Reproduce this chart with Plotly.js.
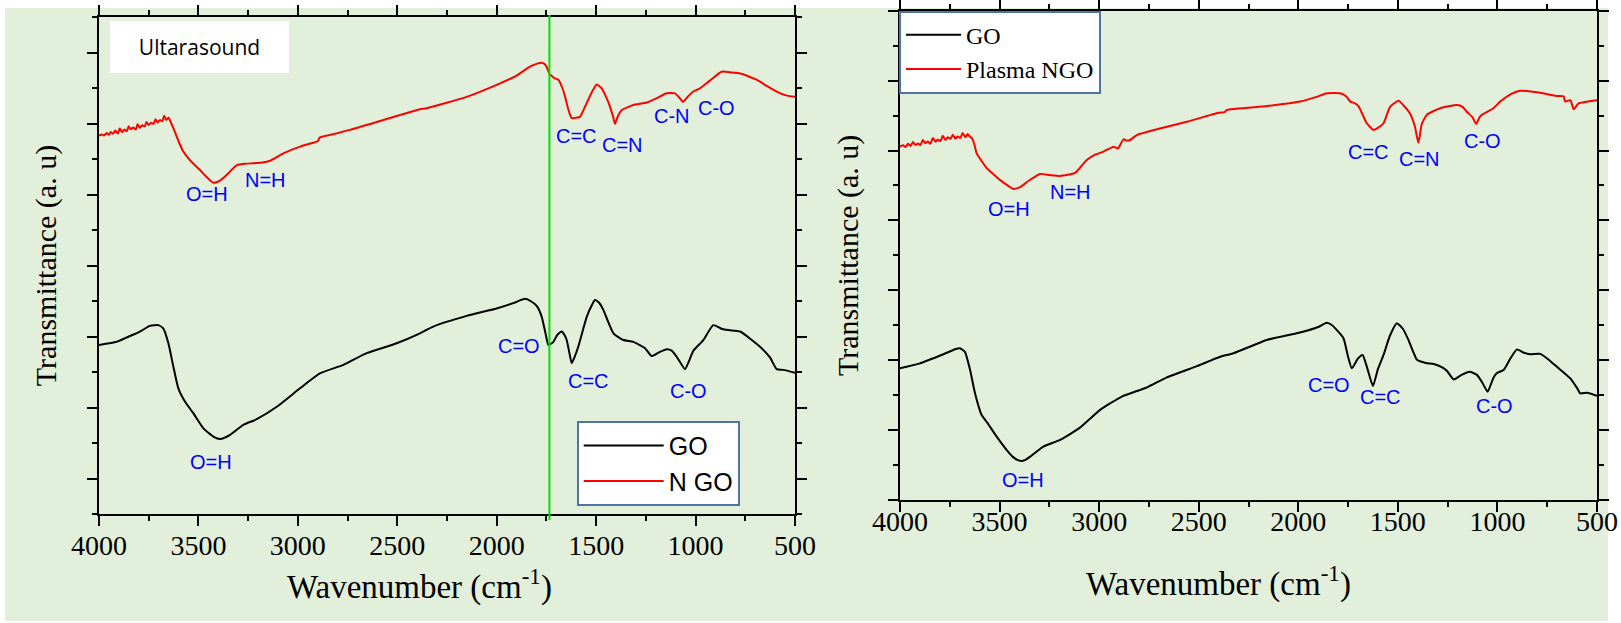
<!DOCTYPE html>
<html><head><meta charset="utf-8">
<script src="https://cdn.plot.ly/plotly-3.0.1.min.js"></script>
<style>html,body{margin:0;padding:0;background:#fff;}#chart{width:1621px;height:623px;}</style>
</head><body><div id="chart"></div>
<script>
// ---------------- data ----------------
const seriesNames = ["GO", "N GO"];
const seriesNamesPlasma = ["GO", "Plasma NGO"];
const panelTitle = "Ultarasound";
const xTitle = "Wavenumber (cm<sup>-1</sup>)";
const yTitle = "Transmittance (a. u)";
const markerWavenumber = 1735;

// Left panel (ultrasound) - GO
const wnUltraGO = [4000,3911,3850,3794,3744,3702,3677,3651,3626,3601,3567,3526,3475,3425,3391,3341,3274,3207,3106,2989,2889,2771,2654,2503,2386,2319,2151,2001,1917,1858,1830,1799,1774,1755,1740,1715,1695,1673,1660,1648,1635,1623,1610,1590,1547,1520,1506,1485,1464,1413,1363,1313,1254,1221,1185,1145,1120,1095,1053,1030,1011,961,911,870,835,776,676,626,592,559,500];
const tUltraGO = [4.76,4.85,5.00,5.14,5.30,5.32,5.23,4.81,4.15,3.54,3.16,2.84,2.41,2.18,2.11,2.23,2.51,2.67,3.02,3.54,3.96,4.20,4.53,4.81,5.09,5.28,5.58,5.79,5.94,6.06,6.00,5.86,5.56,5.10,4.76,4.85,5.05,5.14,5.05,4.90,4.55,4.25,4.40,4.71,5.56,5.90,6.03,5.95,5.75,5.09,4.90,4.85,4.67,4.45,4.55,4.64,4.60,4.43,4.08,4.35,4.60,4.90,5.32,5.22,5.18,5.14,4.71,4.41,4.08,4.06,3.98];

// Left panel (ultrasound) - N GO
const wnUltraNGO = [4000,3985,3975,3962,3950,3941,3930,3918,3905,3896,3884,3872,3860,3851,3840,3828,3815,3806,3795,3783,3770,3761,3750,3738,3725,3716,3705,3693,3682,3672,3662,3650,3640,3626,3600,3576,3540,3492,3460,3425,3390,3358,3307,3260,3224,3180,3140,3073,2989,2922,2900,2889,2838,2738,2570,2486,2386,2352,2151,1983,1900,1833,1800,1774,1760,1749,1735,1723,1710,1690,1670,1656,1640,1623,1600,1581,1556,1520,1497,1472,1450,1430,1415,1405,1390,1371,1313,1246,1200,1145,1103,1080,1062,1040,1011,978,930,869,820,776,700,676,640,592,550,500];
const tUltraNGO = [10.66,10.69,10.66,10.73,10.68,10.76,10.71,10.80,10.72,10.86,10.76,10.83,10.78,10.92,10.84,10.89,10.83,10.98,10.88,10.95,10.92,11.04,10.96,11.02,10.99,11.12,11.03,11.10,11.06,11.22,11.10,11.16,11.05,10.87,10.50,10.21,9.95,9.69,9.50,9.33,9.40,9.55,9.83,9.87,9.88,9.90,9.95,10.16,10.35,10.46,10.50,10.61,10.68,10.82,11.10,11.24,11.40,11.43,11.75,12.13,12.35,12.60,12.68,12.71,12.68,12.60,12.40,12.34,12.28,12.23,12.00,11.75,11.40,11.15,11.16,11.19,11.47,11.90,12.10,11.99,11.75,11.47,11.20,10.99,11.22,11.38,11.52,11.59,11.70,11.85,11.85,11.72,11.61,11.75,11.90,11.99,12.20,12.46,12.44,12.41,12.25,12.18,12.05,11.90,11.80,11.75];

// Right panel (plasma) - GO
const wnPlasmaGO = [4000,3900,3782,3720,3699,3674,3648,3623,3590,3560,3531,3500,3464,3430,3397,3370,3347,3280,3196,3096,2995,2886,2761,2660,2509,2392,2325,2158,1991,1900,1857,1830,1806,1773,1750,1731,1700,1677,1655,1625,1600,1572,1540,1505,1475,1447,1420,1404,1360,1320,1280,1254,1220,1180,1140,1103,1075,1049,1020,1003,969,935,902,870,835,785,740,701,634,600,584,550,500];
const tPlasmaGO = [3.77,3.91,4.17,4.32,4.34,4.24,3.72,3.05,2.43,2.20,1.95,1.70,1.43,1.22,1.12,1.15,1.24,1.53,1.72,2.07,2.58,2.96,3.22,3.51,3.83,4.10,4.20,4.58,4.79,4.95,5.07,5.00,4.86,4.63,4.10,3.77,4.05,4.15,3.80,3.26,3.75,4.15,4.70,5.06,4.90,4.58,4.20,4.01,3.92,3.89,3.80,3.70,3.45,3.58,3.67,3.58,3.35,3.10,3.50,3.63,3.72,4.05,4.31,4.22,4.17,4.18,4.00,3.81,3.48,3.20,3.05,3.07,2.98];

// Right panel (plasma) - Plasma NGO
const wnPlasmaNGO = [4000,3985,3972,3960,3947,3935,3922,3910,3898,3885,3872,3860,3848,3835,3822,3810,3797,3785,3772,3760,3747,3735,3722,3710,3697,3685,3672,3660,3650,3640,3628,3615,3590,3564,3530,3498,3460,3431,3397,3350,3297,3250,3196,3121,3090,3062,3020,2978,2928,2905,2878,2858,2845,2811,2700,2560,2400,2370,2359,2158,1991,1900,1857,1790,1760,1739,1720,1698,1675,1656,1623,1600,1572,1539,1497,1470,1439,1415,1397,1380,1355,1287,1204,1175,1154,1125,1107,1090,1078,1020,986,930,886,785,700,668,660,634,617,600,592,500];
const tPlasmaNGO = [10.11,10.15,10.10,10.19,10.13,10.24,10.16,10.20,10.15,10.30,10.21,10.26,10.19,10.36,10.25,10.31,10.27,10.42,10.30,10.38,10.33,10.45,10.34,10.40,10.36,10.50,10.38,10.47,10.40,10.36,10.20,9.92,9.70,9.49,9.32,9.16,9.00,8.90,8.95,9.15,9.33,9.30,9.27,9.36,9.55,9.73,9.88,9.97,10.11,10.06,10.32,10.28,10.30,10.44,10.62,10.82,11.08,11.10,11.16,11.27,11.40,11.55,11.64,11.64,11.55,11.40,11.36,11.27,11.00,10.78,10.59,10.65,10.78,11.25,11.42,11.28,11.06,10.70,10.22,10.75,11.02,11.21,11.30,11.25,11.11,10.95,10.76,10.95,11.02,11.21,11.40,11.62,11.71,11.65,11.56,11.55,11.40,11.44,11.18,11.30,11.35,11.44];

// Band labels: [text, wavenumber, level]
const bandLabelsUltra = [["O=H",3458,9.01],["N=H",3165,9.41],["C=C",1598,10.65],["C=N",1366,10.39],["C-N",1120,11.22],["C-O",894,11.43],["O=H",3438,1.46],["C=O",1886,4.74],["C=C",1539,3.75],["C-O",1036,3.47]];
const bandLabelsPlasma = [["O=H",3451,8.33],["N=H",3146,8.80],["C=C",1647,9.97],["C=N",1391,9.76],["C-O",1075,10.28],["O=H",3381,0.57],["C=O",1845,3.29],["C=C",1589,2.94],["C-O",1014,2.69]];

// ---------------- layout helpers ----------------
const W = 1621, H = 623;
const px = v => v / W;
const py = v => 1 - v / H;
const serif = '"Liberation Serif", "Times New Roman", Times, serif';
const sans = '"Liberation Sans", Arial, sans-serif';
const bg = '#e2efda';

function xAxis(domain, anchor, labelStandoff) {
  return {
    domain: domain, anchor: anchor, range: [4000, 500], autorange: false,
    tickmode: 'linear', tick0: 500, dtick: 500,
    ticks: 'outside', ticklen: 10, tickwidth: 2, tickcolor: '#000',
    minor: {dtick: 250, ticks: 'outside', ticklen: 5, tickwidth: 2, tickcolor: '#000', showgrid: false},
    showline: true, linewidth: 2, linecolor: '#000', mirror: 'ticks',
    showgrid: false, zeroline: false, automargin: false,
    ticklabelstandoff: labelStandoff,
    tickfont: {family: serif, size: 28, color: '#000'}
  };
}
function yAxis(domain, anchor, tick0, titleStandoff) {
  return {
    domain: domain, anchor: anchor, range: [0, 14], autorange: false,
    tickmode: 'linear', tick0: tick0, dtick: 2, showticklabels: false,
    ticks: 'outside', ticklen: 10, tickwidth: 2, tickcolor: '#000',
    minor: {dtick: 1, tick0: 0, ticks: 'outside', ticklen: 5, tickwidth: 2, tickcolor: '#000', showgrid: false},
    showline: true, linewidth: 2, linecolor: '#000', mirror: 'ticks',
    showgrid: false, zeroline: false, automargin: false,
    title: {text: yTitle, font: {family: serif, size: 30, color: '#000'}, standoff: titleStandoff}
  };
}
function line(x, y, name, color, xa, ya, leg) {
  return {x: x, y: y, name: name, type: 'scatter', mode: 'lines', xaxis: xa, yaxis: ya, legend: leg,
    line: {color: color, width: 2, shape: 'spline', smoothing: 0.5}};
}

const traces = [
  line(wnUltraGO, tUltraGO, seriesNames[0], '#000000', 'x', 'y', 'legend'),
  line(wnUltraNGO, tUltraNGO, seriesNames[1], '#ff0000', 'x', 'y', 'legend'),
  line(wnPlasmaGO, tPlasmaGO, seriesNamesPlasma[0], '#000000', 'x2', 'y2', 'legend2'),
  line(wnPlasmaNGO, tPlasmaNGO, seriesNamesPlasma[1], '#ff0000', 'x2', 'y2', 'legend2')
];

const annotations = [];
bandLabelsUltra.forEach(b => annotations.push({x: b[1], y: b[2], xref: 'x', yref: 'y', text: b[0], showarrow: false,
  font: {family: sans, size: 20, color: '#0000ff'}}));
bandLabelsPlasma.forEach(b => annotations.push({x: b[1], y: b[2], xref: 'x2', yref: 'y2', text: b[0], showarrow: false,
  font: {family: sans, size: 20, color: '#0000ff'}}));
annotations.push({xref: 'paper', yref: 'paper', x: px(199.5), y: py(47), xanchor: 'center', yanchor: 'middle',
  text: panelTitle, showarrow: false,
  bgcolor: '#ffffff', width: 179, height: 52, borderpad: 0, borderwidth: 0,
  font: {family: '"Open Sans", sans-serif', size: 21, color: '#000'}});
// x-axis titles (placed under each panel)
annotations.push({xref: 'paper', yref: 'paper', x: px(419.5), y: py(584), xanchor: 'center', yanchor: 'middle',
  text: xTitle, showarrow: false, font: {family: serif, size: 33, color: '#000'}});
annotations.push({xref: 'paper', yref: 'paper', x: px(1218), y: py(581), xanchor: 'center', yanchor: 'middle',
  text: xTitle, showarrow: false, font: {family: serif, size: 33, color: '#000'}});

const layout = {
  width: W, height: H, margin: {l: 0, r: 0, t: 0, b: 0, pad: 0},
  font: {family: serif, color: '#000'},
  paper_bgcolor: '#ffffff', plot_bgcolor: bg, showlegend: true,
  xaxis: xAxis([px(99), px(795)], 'y', -5),
  yaxis: yAxis([py(514), py(17)], 'x', 1, 22),
  xaxis2: xAxis([px(900), px(1597)], 'y2', -15),
  yaxis2: yAxis([py(500), py(10.7)], 'x2', 0, 20),
  legend: {x: px(576.7), y: py(420.7), xanchor: 'left', yanchor: 'top', bgcolor: '#ffffff',
    bordercolor: '#4f74a3', borderwidth: 2, itemwidth: 80, traceorder: 'normal',
    font: {family: sans, size: 25, color: '#000'}},
  legend2: {x: px(899), y: py(10.7), xanchor: 'left', yanchor: 'top', bgcolor: '#ffffff',
    bordercolor: '#4f74a3', borderwidth: 2, itemwidth: 55, traceorder: 'normal',
    font: {family: serif, size: 24, color: '#000'}},
  shapes: [
    {type: 'rect', xref: 'paper', yref: 'paper', x0: px(5), x1: px(1608), y0: py(621), y1: py(8),
      fillcolor: bg, line: {width: 0}, layer: 'below'},
    {type: 'line', xref: 'x', yref: 'paper', x0: markerWavenumber, x1: markerWavenumber, y0: py(520), y1: py(15),
      line: {color: '#00e000', width: 2}}
  ],
  annotations: annotations
};

Plotly.newPlot('chart', traces, layout, {displayModeBar: false, staticPlot: true});
</script>
</body></html>
